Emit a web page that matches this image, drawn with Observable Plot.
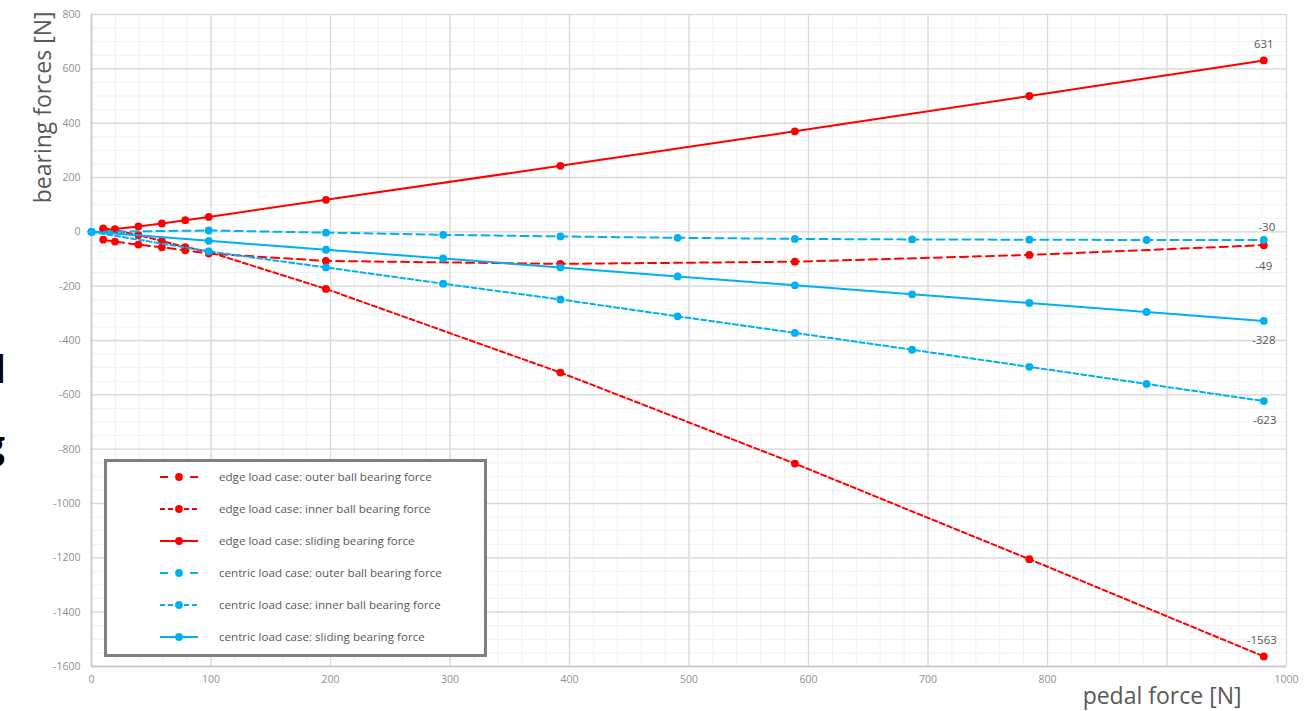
<!DOCTYPE html>
<html>
<head>
<meta charset="utf-8">
<script src="https://cdn.jsdelivr.net/npm/d3@7"></script>
<script src="https://cdn.jsdelivr.net/npm/@observablehq/plot@0.6"></script>
<style>
  html, body { margin: 0; padding: 0; background: #fff; }
  #wrap { position: relative; width: 1304px; height: 711px; overflow: hidden; font-family: "Open Sans", sans-serif; }
  #wrap > svg.plot { position: absolute; left: 0; top: 0; }
  #legend { position: absolute; left: 104px; top: 459px; width: 377px; height: 192px; border: 3px solid #7f7f7f; background: #fff; }
  .lrow { position: absolute; left: 0; height: 20px; width: 377px; }
  .lrow svg { position: absolute; left: 52px; top: 5px; }
  .lrow span { position: absolute; left: 112px; top: 1px; font-size: 11.6px; color: #595959; white-space: nowrap; line-height: 18px; }
  #stray { position: absolute; left: 0; top: 0; }
</style>
</head>
<body>
<div id="wrap"></div>
<script>
// ---- data ----
const edgeX        = [9.81, 19.62, 39.24, 58.86, 78.48, 98.1, 196.2, 392.4, 588.6, 784.8, 981];
const edgeOuter    = [-29, -36, -47, -57, -68, -80, -107, -118, -110, -85, -49];
const edgeInner    = [13, 6, -12, -34, -56, -74, -210, -518, -853, -1205, -1563];
const edgeSliding  = [6, 10, 20, 31, 43, 55, 118, 243, 370, 500, 631];

const centricX       = [0, 98.1, 196.2, 294.3, 392.4, 490.5, 588.6, 686.7, 784.8, 882.9, 981];
const centricOuter   = [0, 5, -3, -11, -17, -22, -26, -28, -29, -30, -30];
const centricInner   = [0, -72, -131, -191, -249, -311, -372, -434, -497, -560, -623];
const centricSliding = [0, -33, -66, -98, -131, -164, -197, -230, -262, -295, -328];

const seriesNames = [
  "edge load case: outer ball bearing force",
  "edge load case: inner ball bearing force",
  "edge load case: sliding bearing force",
  "centric load case: outer ball bearing force",
  "centric load case: inner ball bearing force",
  "centric load case: sliding bearing force"
];

const xTicks = [0, 100, 200, 300, 400, 500, 600, 700, 800, 900, 1000];
// the "900" label is hidden behind the axis title in the reference
const xTickLabels = [0, 100, 200, 300, 400, 500, 600, 700, 800, 1000];
const yTicks = [-1600, -1400, -1200, -1000, -800, -600, -400, -200, 0, 200, 400, 600, 800];
const xLabel = "pedal force [N]";
const yLabel = "bearing forces [N]";

// ---- styles ----
const RED = "#ff0000", BLUE = "#00b0f0";
const LONG = "8,5", SHORT = "5,3", SOLID = null;
const series = [
  {name: seriesNames[0], xs: edgeX, ys: edgeOuter, color: RED, dash: LONG, legendDash: "8,22", labelDy: 21, labelDx: 0},
  {name: seriesNames[1], xs: edgeX, ys: edgeInner, color: RED, dash: SHORT, legendDash: "5,3", labelDy: -16, labelDx: -2},
  {name: seriesNames[2], xs: edgeX, ys: edgeSliding, color: RED, dash: SOLID, legendDash: null, labelDy: -16, labelDx: 0},
  {name: seriesNames[3], xs: centricX, ys: centricOuter, color: BLUE, dash: LONG, legendDash: "8,22", labelDy: -13, labelDx: 3},
  {name: seriesNames[4], xs: centricX, ys: centricInner, color: BLUE, dash: SHORT, legendDash: "5,3", labelDy: 19, labelDx: 1},
  {name: seriesNames[5], xs: centricX, ys: centricSliding, color: BLUE, dash: SOLID, legendDash: null, labelDy: 19, labelDx: 0}
];
series.forEach(s => { s.data = s.xs.map((x, i) => ({x, y: s.ys[i]})); });

const xMinor = d3.range(xTicks[0], xTicks[xTicks.length - 1] + 1, 20);
const yMinor = d3.range(yTicks[0], yTicks[yTicks.length - 1] + 1, 50);

const marks = [
  Plot.ruleX(xMinor, {stroke: "#f0f0f0", strokeWidth: 1}),
  Plot.ruleY(yMinor, {stroke: "#f0f0f0", strokeWidth: 1}),
  Plot.ruleX(xTicks, {stroke: "#d9d9d9", strokeWidth: 1.3}),
  Plot.ruleY(yTicks, {stroke: "#d9d9d9", strokeWidth: 1.3}),
  Plot.ruleX([xTicks[0]], {stroke: "#c8c8c8", strokeWidth: 1.6}),
  Plot.ruleY([yTicks[0]], {stroke: "#c8c8c8", strokeWidth: 1.6}),
  Plot.axisX({ticks: xTickLabels, tickFormat: d => String(d), tickSize: 0, tickPadding: 9, fontSize: 10.5, color: "#8f8f8f", label: null}),
  Plot.axisY({ticks: yTicks, tickFormat: d => String(d), tickSize: 0, tickPadding: 11, fontSize: 10.5, color: "#8f8f8f", label: null}),
  Plot.text([xLabel], {frameAnchor: "bottom-right", text: d => d, textAnchor: "end", dx: -45, dy: 37, fontSize: 23, fill: "#595959"}),
  Plot.text([yLabel], {frameAnchor: "top-left", text: d => d, textAnchor: "end", rotate: -90, dx: -57, dy: -3, fontSize: 23, fill: "#595959"})
];
for (const s of series) {
  marks.push(Plot.line(s.data, {x: "x", y: "y", stroke: s.color, strokeWidth: 2, strokeDasharray: s.dash || undefined}));
  marks.push(Plot.dot(s.data, {x: "x", y: "y", r: 3.9, fill: s.color, stroke: "none"}));
}
for (const s of series) {
  const last = s.data[s.data.length - 1];
  marks.push(Plot.text([last], {x: "x", y: "y", text: d => String(d.y), dx: s.labelDx, dy: s.labelDy, fontSize: 11.5, fill: "#595959"}));
}

const chart = Plot.plot({
  width: 1304, height: 711,
  marginLeft: 91, marginRight: 18, marginTop: 14, marginBottom: 45,
  style: {fontFamily: "'Open Sans', sans-serif", background: "transparent", overflow: "visible"},
  x: {domain: [0, 1000]},
  y: {domain: [-1600, 800]},
  marks
});
chart.classList.add("plot");
const wrap = document.getElementById("wrap");
wrap.appendChild(chart);

// ---- legend ----
const legend = document.createElement("div");
legend.id = "legend";
series.forEach((s, i) => {
  const row = document.createElement("div");
  row.className = "lrow";
  row.style.top = (5 + i * 32) + "px";
  const sw = d3.create("svg").attr("width", 40).attr("height", 10);
  sw.append("line").attr("x1", 1).attr("x2", 39).attr("y1", 5).attr("y2", 5)
    .attr("stroke", s.color).attr("stroke-width", 2)
    .attr("stroke-dasharray", s.legendDash);
  sw.append("circle").attr("cx", 20).attr("cy", 5).attr("r", 3.9).attr("fill", s.color);
  row.appendChild(sw.node());
  const sp = document.createElement("span");
  sp.textContent = s.name;
  row.appendChild(sp);
  legend.appendChild(row);
});
wrap.appendChild(legend);

// ---- cropped glyphs at the left edge of the picture (as in the reference) ----
const stray = d3.create("svg").attr("id", "stray").attr("width", 20).attr("height", 711);
stray.append("text").attr("x", -5.5).attr("y", 383).attr("font-size", 37).attr("font-weight", "bold")
  .attr("font-family", "'Open Sans', sans-serif").attr("fill", "#000").text("l");
stray.append("text").attr("x", -16).attr("y", 458).attr("font-size", 37).attr("font-weight", "bold")
  .attr("font-family", "'Open Sans', sans-serif").attr("fill", "#000").text("g");
wrap.appendChild(stray.node());
</script>
</body>
</html>
